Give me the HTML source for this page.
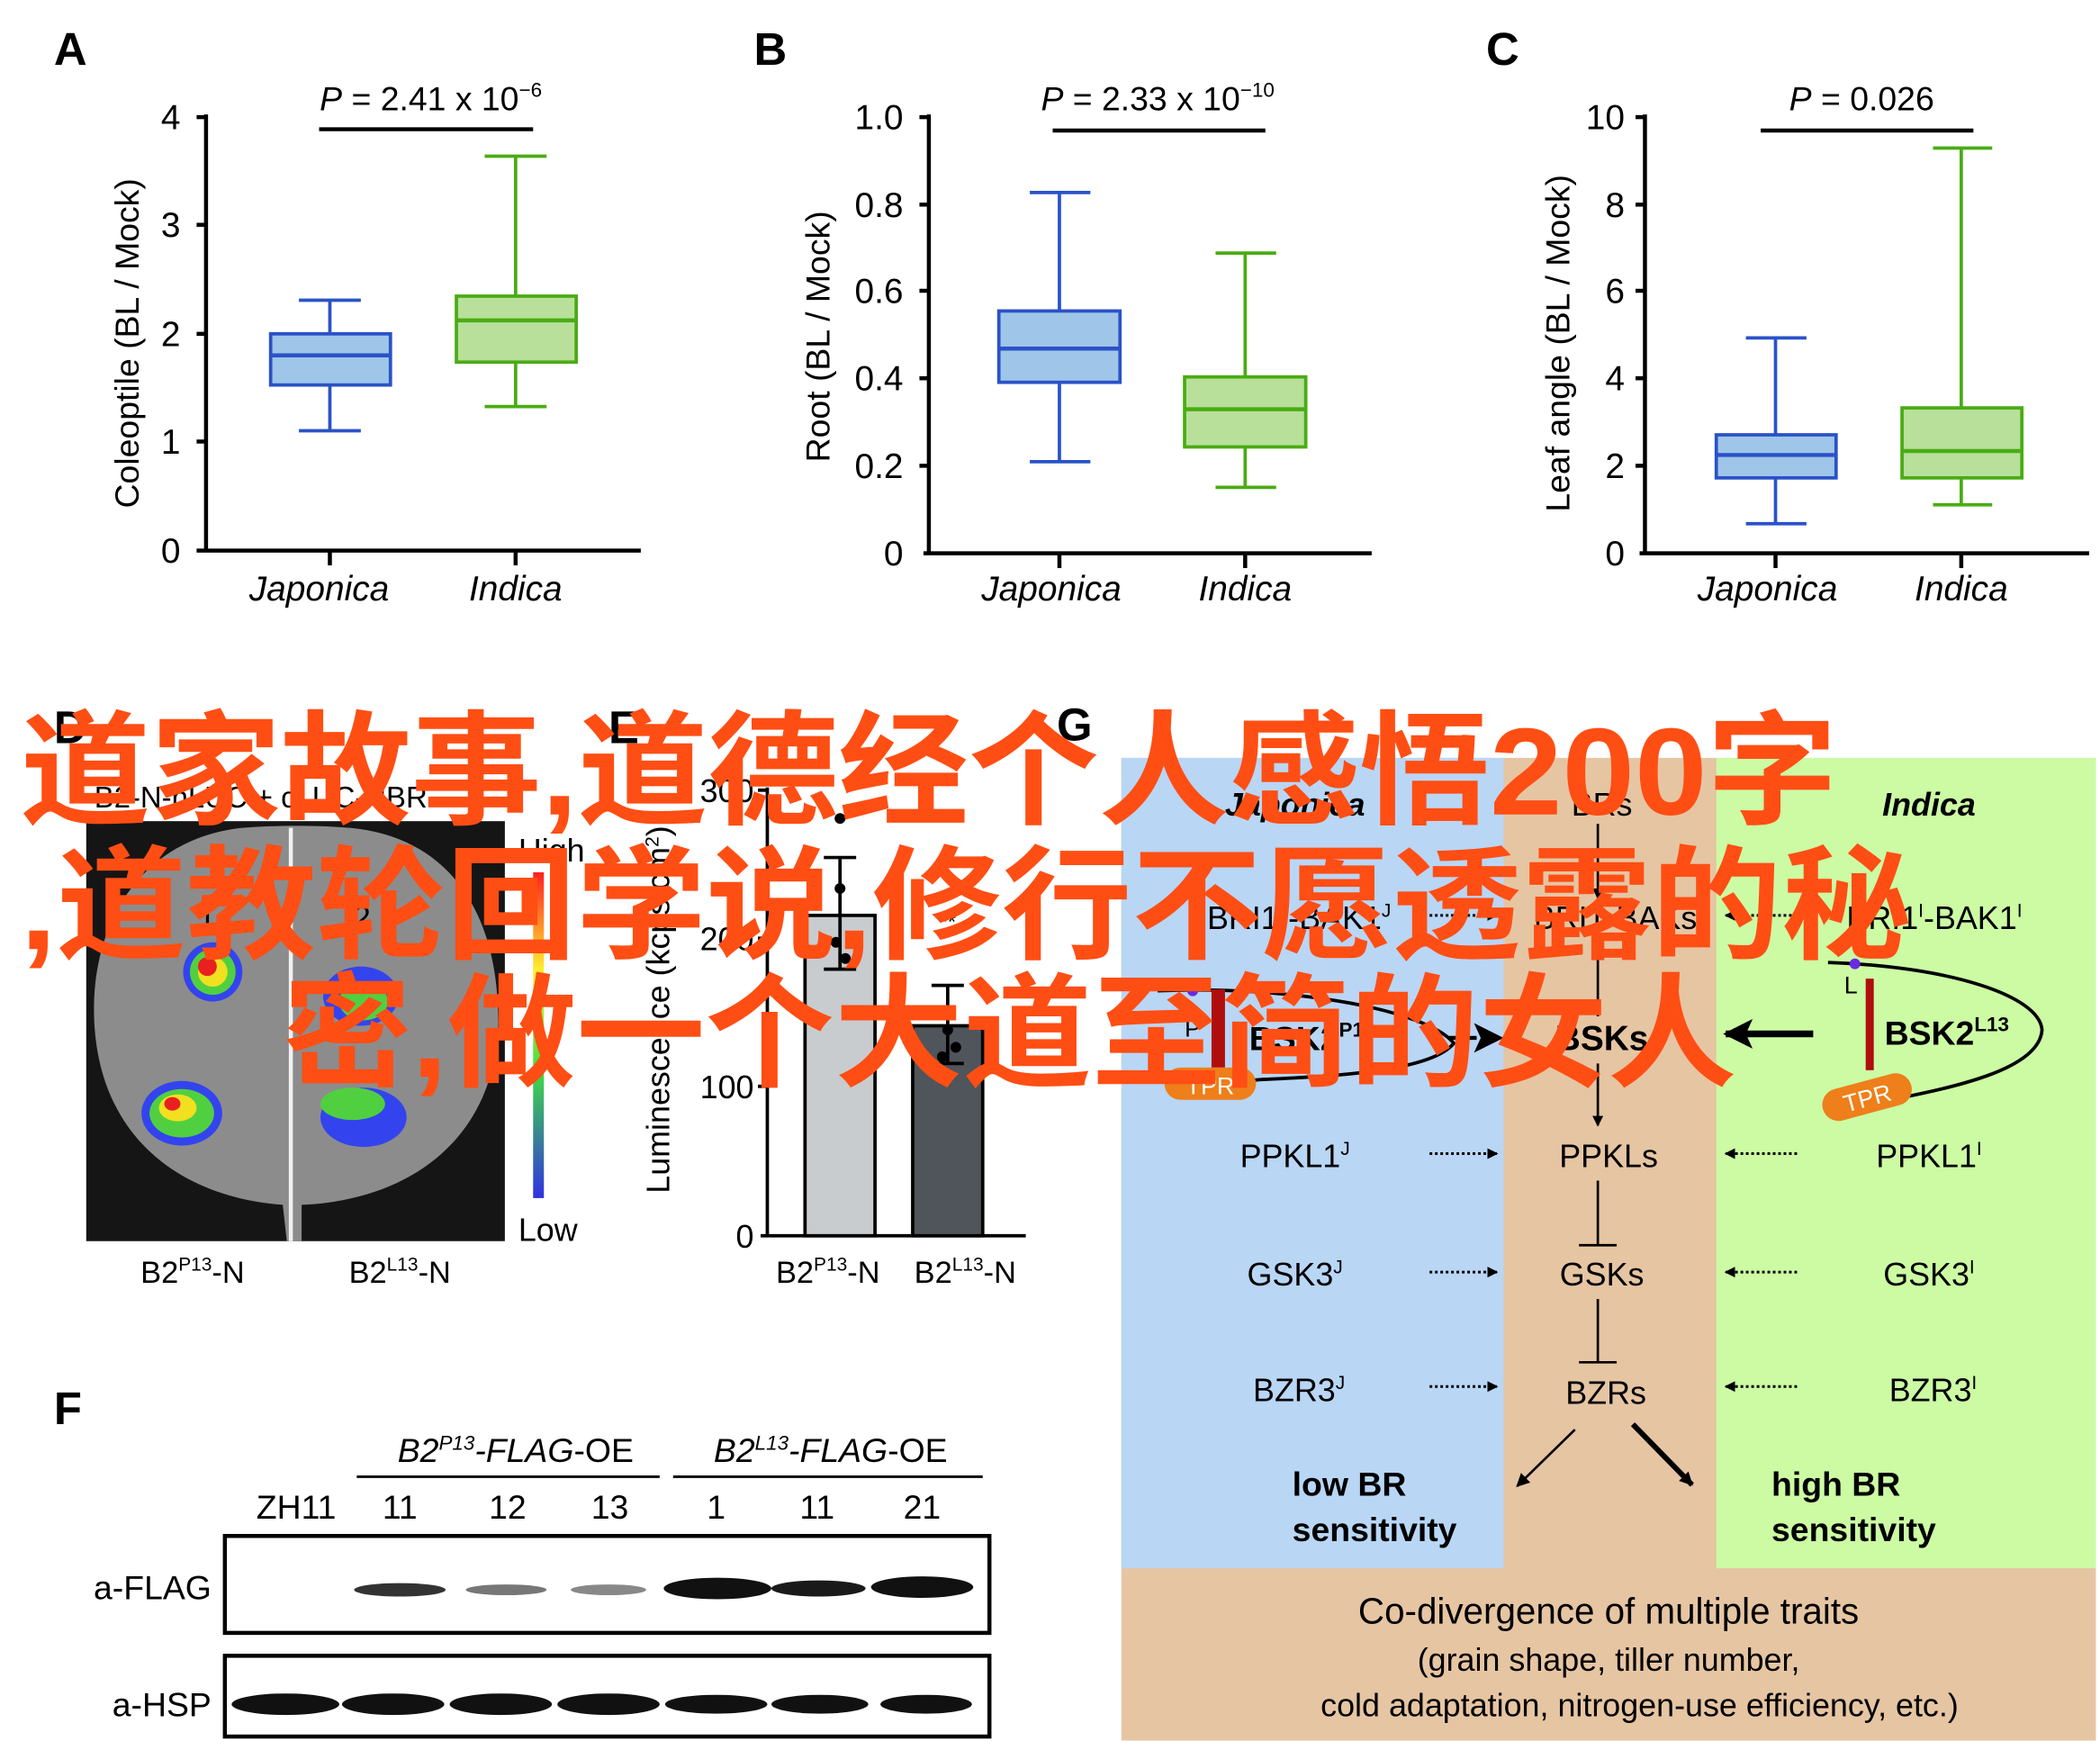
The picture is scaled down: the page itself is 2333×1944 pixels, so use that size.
<!DOCTYPE html>
<html><head><meta charset="utf-8"><style>html,body{margin:0;padding:0;background:#fff}svg{display:block}</style></head>
<body>
<svg width="2333" height="1944" viewBox="0 0 1560 1300" xmlns="http://www.w3.org/2000/svg" font-family="Liberation Sans, Arial, sans-serif">
<rect width="1560" height="1300" fill="#fff"/>
<defs>
<marker id="ah" markerWidth="8" markerHeight="8" refX="7" refY="4" orient="auto" markerUnits="userSpaceOnUse"><path d="M0,0 L8,4 L0,8 z" fill="#000"/></marker>
<marker id="ahs" markerWidth="10" markerHeight="10" refX="9" refY="5" orient="auto" markerUnits="userSpaceOnUse"><path d="M0,0 L10,5 L0,10 z" fill="#000"/></marker>
<marker id="ahb" markerWidth="22" markerHeight="22" refX="20" refY="11" orient="auto" markerUnits="userSpaceOnUse"><path d="M0,0 L22,11 L0,22 L5,11 z" fill="#000"/></marker>
<linearGradient id="cb" x1="0" y1="0" x2="0" y2="1"><stop offset="0" stop-color="#ff2020"/><stop offset="0.3" stop-color="#ffee30"/><stop offset="0.6" stop-color="#40e040"/><stop offset="1" stop-color="#3030e0"/></linearGradient>
</defs>

<!-- Panel A -->
<text x="40" y="48" font-size="34" font-weight="bold">A</text>
<g stroke="#000" stroke-width="3" fill="none">
<line x1="153" y1="85" x2="153" y2="409"/><line x1="146" y1="409" x2="476" y2="409"/>
<line x1="146" y1="87" x2="153" y2="87"/><line x1="146" y1="167" x2="153" y2="167"/><line x1="146" y1="248" x2="153" y2="248"/><line x1="146" y1="328" x2="153" y2="328"/>
<line x1="245" y1="409" x2="245" y2="420"/><line x1="383" y1="409" x2="383" y2="420"/>
<line x1="237" y1="96" x2="396" y2="96"/>
</g>
<g font-size="26" text-anchor="end"><text x="134" y="96">4</text><text x="134" y="176">3</text><text x="134" y="257">2</text><text x="134" y="337">1</text><text x="134" y="418">0</text></g>
<text x="320" y="82" font-size="25" text-anchor="middle"><tspan font-style="italic">P</tspan> = 2.41 x 10<tspan font-size="15" dy="-10">−6</tspan></text>
<text transform="translate(103,255) rotate(-90)" font-size="25" text-anchor="middle">Coleoptile (BL / Mock)</text>
<g font-size="26" font-style="italic" text-anchor="middle"><text x="237" y="446">Japonica</text><text x="383" y="446">Indica</text></g>
<g stroke="#2a52c8" stroke-width="2.5"><line x1="245" y1="223" x2="245" y2="320"/><line x1="222" y1="223" x2="268" y2="223"/><line x1="222" y1="320" x2="268" y2="320"/><rect x="201" y="248" width="89" height="38" fill="#9fc5e8"/><line x1="201" y1="264" x2="290" y2="264" stroke-width="3"/></g>
<g stroke="#4aac14" stroke-width="2.5"><line x1="383" y1="116" x2="383" y2="302"/><line x1="360" y1="116" x2="406" y2="116"/><line x1="360" y1="302" x2="406" y2="302"/><rect x="339" y="220" width="89" height="49" fill="#b8e09a"/><line x1="339" y1="238" x2="428" y2="238" stroke-width="3"/></g>

<!-- Panel B -->
<text x="560" y="48" font-size="34" font-weight="bold">B</text>
<g stroke="#000" stroke-width="3" fill="none">
<line x1="690" y1="85" x2="690" y2="411"/><line x1="686" y1="411" x2="1019" y2="411"/>
<line x1="683" y1="87" x2="690" y2="87"/><line x1="683" y1="152" x2="690" y2="152"/><line x1="683" y1="216" x2="690" y2="216"/><line x1="683" y1="281" x2="690" y2="281"/><line x1="683" y1="346" x2="690" y2="346"/>
<line x1="787" y1="411" x2="787" y2="422"/><line x1="925" y1="411" x2="925" y2="422"/>
<line x1="782" y1="97" x2="940" y2="97"/>
</g>
<g font-size="26" text-anchor="end"><text x="671" y="96">1.0</text><text x="671" y="161">0.8</text><text x="671" y="225">0.6</text><text x="671" y="290">0.4</text><text x="671" y="355">0.2</text><text x="671" y="420">0</text></g>
<text x="860" y="82" font-size="25" text-anchor="middle"><tspan font-style="italic">P</tspan> = 2.33 x 10<tspan font-size="15" dy="-10">−10</tspan></text>
<text transform="translate(616,250) rotate(-90)" font-size="25" text-anchor="middle">Root (BL / Mock)</text>
<g font-size="26" font-style="italic" text-anchor="middle"><text x="781" y="446">Japonica</text><text x="925" y="446">Indica</text></g>
<g stroke="#2a52c8" stroke-width="2.5"><line x1="787" y1="143" x2="787" y2="343"/><line x1="765" y1="143" x2="810" y2="143"/><line x1="765" y1="343" x2="810" y2="343"/><rect x="742" y="231" width="90" height="53" fill="#9fc5e8"/><line x1="742" y1="259" x2="832" y2="259" stroke-width="3"/></g>
<g stroke="#4aac14" stroke-width="2.5"><line x1="925" y1="188" x2="925" y2="362"/><line x1="903" y1="188" x2="948" y2="188"/><line x1="903" y1="362" x2="948" y2="362"/><rect x="880" y="280" width="90" height="52" fill="#b8e09a"/><line x1="880" y1="304" x2="970" y2="304" stroke-width="3"/></g>

<!-- Panel C -->
<text x="1104" y="48" font-size="34" font-weight="bold">C</text>
<g stroke="#000" stroke-width="3" fill="none">
<line x1="1222" y1="85" x2="1222" y2="411"/><line x1="1218" y1="411" x2="1552" y2="411"/>
<line x1="1215" y1="87" x2="1222" y2="87"/><line x1="1215" y1="152" x2="1222" y2="152"/><line x1="1215" y1="216" x2="1222" y2="216"/><line x1="1215" y1="281" x2="1222" y2="281"/><line x1="1215" y1="346" x2="1222" y2="346"/>
<line x1="1319" y1="411" x2="1319" y2="422"/><line x1="1457" y1="411" x2="1457" y2="422"/>
<line x1="1308" y1="97" x2="1466" y2="97"/>
</g>
<g font-size="26" text-anchor="end"><text x="1207" y="96">10</text><text x="1207" y="161">8</text><text x="1207" y="225">6</text><text x="1207" y="290">4</text><text x="1207" y="355">2</text><text x="1207" y="420">0</text></g>
<text x="1383" y="82" font-size="25" text-anchor="middle"><tspan font-style="italic">P</tspan> = 0.026</text>
<text transform="translate(1166,255) rotate(-90)" font-size="25" text-anchor="middle">Leaf angle (BL / Mock)</text>
<g font-size="26" font-style="italic" text-anchor="middle"><text x="1313" y="446">Japonica</text><text x="1457" y="446">Indica</text></g>
<g stroke="#2a52c8" stroke-width="2.5"><line x1="1319" y1="251" x2="1319" y2="389"/><line x1="1297" y1="251" x2="1342" y2="251"/><line x1="1297" y1="389" x2="1342" y2="389"/><rect x="1275" y="323" width="89" height="32" fill="#9fc5e8"/><line x1="1275" y1="338" x2="1364" y2="338" stroke-width="3"/></g>
<g stroke="#4aac14" stroke-width="2.5"><line x1="1457" y1="110" x2="1457" y2="375"/><line x1="1436" y1="110" x2="1480" y2="110"/><line x1="1436" y1="375" x2="1480" y2="375"/><rect x="1413" y="303" width="89" height="52" fill="#b8e09a"/><line x1="1413" y1="335" x2="1502" y2="335" stroke-width="3"/></g>

<!-- Panel D -->
<text x="40" y="552" font-size="34" font-weight="bold">D</text>
<text x="70" y="600" font-size="22">B2-N-nLUC + cLUC-HBR</text>
<rect x="64" y="610" width="311" height="312" fill="#151515"/>
<path d="M213,922 L210,895 C140,890 75,850 70,760 C66,680 110,622 180,615 C205,613 235,613 260,615 C335,622 372,680 370,765 C365,850 300,892 224,895 L224,922 z" fill="#8c8c8c"/>
<line x1="216" y1="615" x2="216" y2="922" stroke="#f2f2f2" stroke-width="3"/>
<g font-size="24" fill="#000"><text x="147" y="690">1</text><text x="262" y="690">2</text></g>
<ellipse cx="158" cy="722" rx="22" ry="22" fill="#3344ee"/><ellipse cx="158" cy="722" rx="17" ry="17" fill="#50d040"/><ellipse cx="158" cy="722" rx="11" ry="11" fill="#f0e020"/><ellipse cx="154" cy="718" rx="7" ry="7" fill="#e82020"/>
<ellipse cx="268" cy="740" rx="28" ry="22" fill="#3344ee"/><ellipse cx="270" cy="744" rx="18" ry="14" fill="#50d040"/>
<ellipse cx="135" cy="827" rx="30" ry="24" fill="#3344ee"/><ellipse cx="135" cy="827" rx="24" ry="18" fill="#50d040"/><ellipse cx="132" cy="823" rx="14" ry="10" fill="#f0e020"/><ellipse cx="128" cy="820" rx="6" ry="5" fill="#e82020"/>
<ellipse cx="270" cy="830" rx="32" ry="22" fill="#3344ee"/><ellipse cx="262" cy="820" rx="24" ry="12" fill="#50d040"/>
<rect x="396" y="648" width="8" height="242" fill="url(#cb)"/>
<text x="385" y="640" font-size="24">High</text><text x="385" y="922" font-size="24">Low</text>
<g font-size="23" text-anchor="middle"><text x="143" y="953">B2<tspan font-size="14" dy="-9">P13</tspan><tspan dy="9">-N</tspan></text><text x="297" y="953">B2<tspan font-size="14" dy="-9">L13</tspan><tspan dy="9">-N</tspan></text></g>

<!-- Panel E -->
<text x="452" y="552" font-size="34" font-weight="bold">E</text>
<g stroke="#000" stroke-width="2.5">
<line x1="570" y1="585" x2="570" y2="918"/><line x1="565" y1="918" x2="762" y2="918"/>
<line x1="563" y1="587" x2="570" y2="587"/><line x1="563" y1="697" x2="570" y2="697"/><line x1="563" y1="807" x2="570" y2="807"/>
<rect x="598" y="680" width="52" height="238" fill="#c8ccce"/><rect x="678" y="762" width="52" height="156" fill="#4f555a"/>
<line x1="624" y1="637" x2="624" y2="720"/><line x1="612" y1="637" x2="636" y2="637"/><line x1="612" y1="720" x2="636" y2="720"/>
<line x1="704" y1="732" x2="704" y2="790"/><line x1="692" y1="732" x2="716" y2="732"/><line x1="692" y1="790" x2="716" y2="790"/>
</g>
<g fill="#000"><circle cx="624" cy="608" r="4"/><circle cx="624" cy="660" r="4"/><circle cx="621" cy="700" r="4"/><circle cx="628" cy="712" r="4"/><circle cx="704" cy="706" r="4"/><circle cx="704" cy="765" r="4"/><circle cx="710" cy="778" r="4"/><circle cx="700" cy="785" r="4"/></g>
<g font-size="24" text-anchor="end"><text x="560" y="596">300</text><text x="560" y="706">200</text><text x="560" y="816">100</text><text x="560" y="927">0</text></g>
<text x="704" y="690" font-size="16" text-anchor="middle">**</text>
<text transform="translate(497,750) rotate(-90)" font-size="24" text-anchor="middle">Luminescence (kcps/cm<tspan font-size="14" dy="-8">2</tspan><tspan dy="8">)</tspan></text>
<g font-size="23" text-anchor="middle"><text x="615" y="953">B2<tspan font-size="14" dy="-9">P13</tspan><tspan dy="9">-N</tspan></text><text x="717" y="953">B2<tspan font-size="14" dy="-9">L13</tspan><tspan dy="9">-N</tspan></text></g>

<!-- Panel F -->
<text x="40" y="1058" font-size="34" font-weight="bold">F</text>
<g font-size="25" text-anchor="middle">
<text x="383" y="1086"><tspan font-style="italic">B2<tspan font-size="15" dy="-9">P13</tspan><tspan dy="9">-FLAG</tspan></tspan>-OE</text>
<text x="617" y="1086"><tspan font-style="italic">B2<tspan font-size="15" dy="-9">L13</tspan><tspan dy="9">-FLAG</tspan></tspan>-OE</text>
<text x="220" y="1128">ZH11</text><text x="297" y="1128">11</text><text x="377" y="1128">12</text><text x="453" y="1128">13</text><text x="532" y="1128">1</text><text x="607" y="1128">11</text><text x="685" y="1128">21</text>
</g>
<g stroke="#000" stroke-width="2"><line x1="265" y1="1097" x2="490" y2="1097"/><line x1="500" y1="1097" x2="730" y2="1097"/></g>
<rect x="167" y="1141" width="568" height="72" fill="#fff" stroke="#000" stroke-width="3"/>
<rect x="167" y="1230" width="568" height="60" fill="#fff" stroke="#000" stroke-width="3"/>
<text x="157" y="1188" font-size="25" text-anchor="end">a-FLAG</text>
<text x="157" y="1275" font-size="25" text-anchor="end">a-HSP</text>
<g fill="#222">
<ellipse cx="297" cy="1181" rx="34" ry="5" fill="#333"/><ellipse cx="376" cy="1181" rx="30" ry="4" fill="#777"/><ellipse cx="452" cy="1181" rx="28" ry="4" fill="#888"/>
<ellipse cx="533" cy="1180" rx="40" ry="8" fill="#111"/><ellipse cx="608" cy="1180" rx="35" ry="6" fill="#1a1a1a"/><ellipse cx="685" cy="1179" rx="38" ry="8" fill="#111"/>
<ellipse cx="212" cy="1266" rx="40" ry="8" fill="#111"/><ellipse cx="292" cy="1266" rx="38" ry="8" fill="#111"/><ellipse cx="372" cy="1266" rx="38" ry="8" fill="#111"/><ellipse cx="452" cy="1266" rx="38" ry="8" fill="#111"/><ellipse cx="532" cy="1266" rx="38" ry="7" fill="#111"/><ellipse cx="609" cy="1266" rx="36" ry="7" fill="#111"/><ellipse cx="688" cy="1266" rx="34" ry="7" fill="#111"/>
</g>

<!-- Panel G -->
<text x="785" y="550" font-size="34" font-weight="bold">G</text>
<rect x="833" y="563" width="724" height="730" fill="#e6c5a3"/>
<rect x="833" y="563" width="284" height="602" fill="#b9d6f5"/>
<rect x="1275" y="563" width="282" height="602" fill="#ccfba4"/>
<g font-size="24" font-style="italic" font-weight="bold" text-anchor="middle"><text x="962" y="606">Japonica</text><text x="1433" y="606">Indica</text></g>
<text x="1190" y="606" font-size="24" text-anchor="middle">BRs</text>
<g font-size="24" text-anchor="middle">
<text x="965" y="690">BRI1<tspan font-size="14" dy="-9">J</tspan><tspan dy="9">-BAK1</tspan><tspan font-size="14" dy="-9">J</tspan></text>
<text x="1200" y="690">BRI1-BAKs</text>
<text x="1437" y="690">BRI1<tspan font-size="14" dy="-9">I</tspan><tspan dy="9">-BAK1</tspan><tspan font-size="14" dy="-9">I</tspan></text>
<text x="962" y="867">PPKL1<tspan font-size="14" dy="-9">J</tspan></text>
<text x="1195" y="867">PPKLs</text>
<text x="1433" y="867">PPKL1<tspan font-size="14" dy="-9">I</tspan></text>
<text x="962" y="955">GSK3<tspan font-size="14" dy="-9">J</tspan></text>
<text x="1190" y="955">GSKs</text>
<text x="1433" y="955">GSK3<tspan font-size="14" dy="-9">I</tspan></text>
<text x="965" y="1041">BZR3<tspan font-size="14" dy="-9">J</tspan></text>
<text x="1193" y="1043">BZRs</text>
<text x="1436" y="1041">BZR3<tspan font-size="14" dy="-9">I</tspan></text>
</g>
<text x="1190" y="780" font-size="26" font-weight="bold" text-anchor="middle">BSKs</text>
<g stroke="#000" stroke-width="1.8" fill="none">
<line x1="1187" y1="612" x2="1187" y2="667" marker-end="url(#ah)"/>
<line x1="1187" y1="695" x2="1187" y2="755"/>
<line x1="1187" y1="790" x2="1187" y2="836" marker-end="url(#ah)"/>
<line x1="1187" y1="877" x2="1187" y2="925"/><line x1="1173" y1="925" x2="1201" y2="925"/>
<line x1="1187" y1="965" x2="1187" y2="1012"/><line x1="1173" y1="1012" x2="1201" y2="1012"/>
<line x1="1170" y1="1062" x2="1127" y2="1104" marker-end="url(#ahs)"/>
<line x1="1213" y1="1058" x2="1257" y2="1103" stroke-width="4" marker-end="url(#ahs)"/>
</g>
<g stroke="#000" stroke-width="2" stroke-dasharray="2,2" fill="none">
<line x1="1062" y1="680" x2="1112" y2="680" marker-end="url(#ah)"/>
<line x1="1335" y1="680" x2="1282" y2="680" marker-end="url(#ah)"/>
<line x1="1062" y1="857" x2="1112" y2="857" marker-end="url(#ah)"/>
<line x1="1335" y1="857" x2="1282" y2="857" marker-end="url(#ah)"/>
<line x1="1062" y1="945" x2="1112" y2="945" marker-end="url(#ah)"/>
<line x1="1335" y1="945" x2="1282" y2="945" marker-end="url(#ah)"/>
<line x1="1062" y1="1030" x2="1112" y2="1030" marker-end="url(#ah)"/>
<line x1="1335" y1="1030" x2="1282" y2="1030" marker-end="url(#ah)"/>
</g>
<line x1="1063" y1="771" x2="1115" y2="771" stroke="#000" stroke-width="3" stroke-dasharray="8,5" marker-end="url(#ahb)"/>
<line x1="1347" y1="768" x2="1282" y2="768" stroke="#000" stroke-width="5" marker-end="url(#ahb)"/>
<path d="M860,736 C960,732 1060,750 1080,775 C1060,800 960,800 920,803" stroke="#000" stroke-width="2.5" fill="none"/>
<rect x="900" y="735" width="10" height="58" fill="#b00d0d"/>
<circle cx="886" cy="736" r="4" fill="#6a2ae0"/>
<text x="880" y="770" font-size="18">P</text>
<text x="928" y="780" font-size="25" font-weight="bold">BSK2<tspan font-size="15" dy="-10">P13</tspan></text>
<rect x="865" y="793" width="68" height="24" rx="12" fill="#ee7f1a"/>
<text x="899" y="813" font-size="18" fill="#fff" text-anchor="middle">TPR</text>
<path d="M1358,715 C1450,718 1515,740 1517,765 C1515,795 1450,808 1400,818" stroke="#000" stroke-width="2.5" fill="none"/>
<rect x="1386" y="727" width="6" height="68" fill="#b00d0d"/>
<circle cx="1378" cy="716" r="4" fill="#6a2ae0"/>
<text x="1370" y="738" font-size="18">L</text>
<text x="1400" y="776" font-size="25" font-weight="bold">BSK2<tspan font-size="15" dy="-10">L13</tspan></text>
<g transform="translate(1387,815) rotate(-15)"><rect x="-34" y="-12" width="68" height="24" rx="12" fill="#ee7f1a"/><text x="0" y="7" font-size="18" fill="#fff" text-anchor="middle">TPR</text></g>
<g font-size="25" font-weight="bold"><text x="960" y="1111">low BR</text><text x="960" y="1145">sensitivity</text><text x="1316" y="1111">high BR</text><text x="1316" y="1145">sensitivity</text></g>
<g text-anchor="middle"><text x="1195" y="1206" font-size="27">Co-divergence of multiple traits</text><text x="1195" y="1241" font-size="24">(grain shape, tiller number,</text><text x="1218" y="1275" font-size="24">cold adaptation, nitrogen-use efficiency, etc.)</text></g>

<!-- Watermark -->
<g font-family="Liberation Sans, Noto Sans CJK SC, sans-serif" font-weight="bold" fill="#ff4e14" font-size="92">
<text x="15" y="605" textLength="1350" lengthAdjust="spacingAndGlyphs">道家故事,道德经个人感悟200字</text>
<text x="15" y="705" textLength="1405" lengthAdjust="spacingAndGlyphs">,道教轮回学说,修行不愿透露的秘</text>
<text x="210" y="800" textLength="1080" lengthAdjust="spacingAndGlyphs">密,做一个大道至简的女人</text>
</g>
</svg>
</body></html>
